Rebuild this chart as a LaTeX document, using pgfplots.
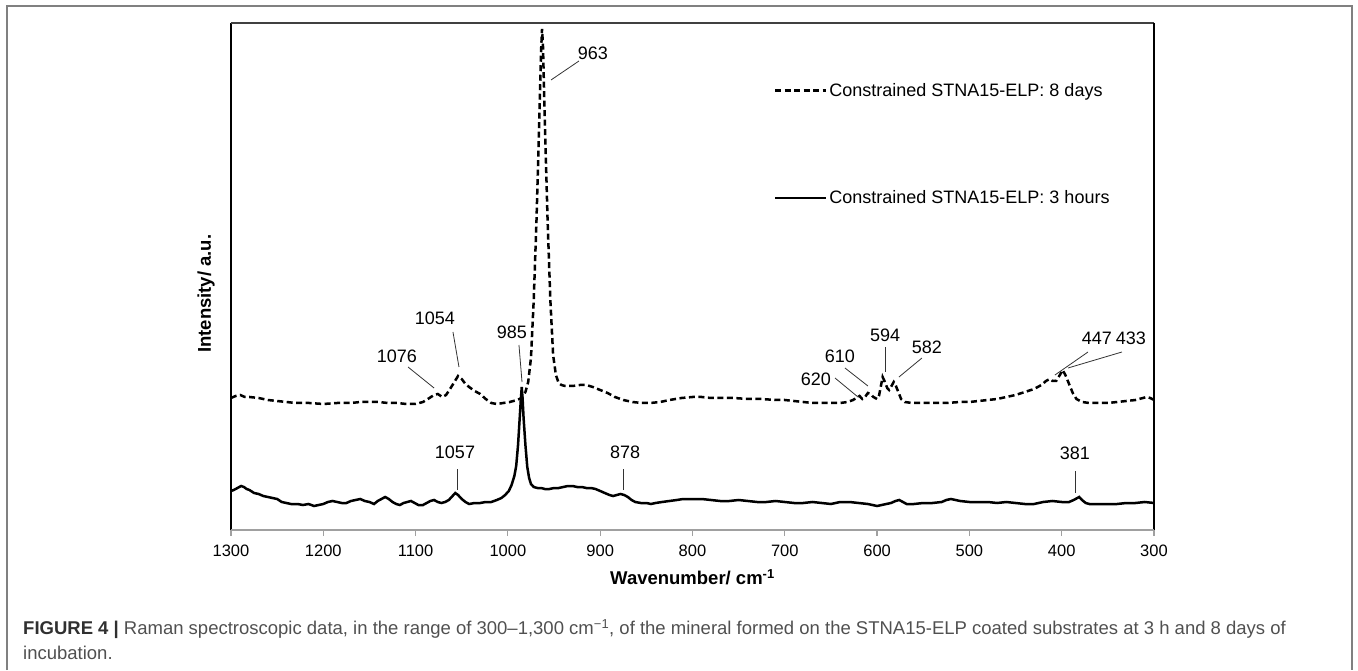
\documentclass[border=0pt]{standalone}
\usepackage{fontspec}
\setmainfont{Liberation Sans}
\usepackage{pgfplots}
\pgfplotsset{compat=1.18}
\definecolor{capgray}{HTML}{505050}
\definecolor{capdark}{HTML}{303030}
\definecolor{framegray}{HTML}{808080}
\definecolor{axisgray}{HTML}{A0A0A0}
\newcommand{\lab}{\fontsize{18}{20}\selectfont}

\pgfplotstableread{
w v
1300 132
1295 134
1290 135
1285 133
1280 133
1270 132
1260 130
1250 129
1240 128
1230 127
1215 127
1200 126
1185 127
1170 127
1160 128
1150 128
1140 128
1130 127
1120 127
1110 126
1100 126
1092 128
1085 132
1080 135
1076 136
1071 133
1067 135
1062 142
1058 148
1054 154
1050 151
1046 146
1042 143
1036 139
1030 136
1024 131
1018 127
1012 126
1005 127
998 128
990 130
985 132
981 138
978 148
975 172
972 230
969 310
966 410
964 480
963 501
962 485
960 410
957 310
954 230
951 175
948 155
945 147
942 145
938 144
930 144
922 145
915 145
908 143
900 140
892 137
884 133
875 130
865 128
855 127
846 127
835 128
825 130
812 132
800 133
790 133
780 132
770 132
755 132
740 131
725 131
710 130
700 130
690 129
680 128
670 127
660 127
650 127
640 127
632 128
626 130
621 133
619 134
616 131
613 133
610 137
607 136
604 133
600 131
598 134
595 148
594 153
592 149
589 142
587 140
585 143
582 148
580 145
577 138
574 131
570 128
562 127
550 127
540 127
525 127
510 128
500 128
490 129
480 130
470 131
460 133
450 135
440 138
430 141
422 145
417 149
413 151
410 149
406 149
402 155
399 160
396 155
392 146
388 137
384 131
378 128
370 127
360 127
350 127
340 128
330 129
320 130
312 132
308 133
304 132
300 130
}\days

\pgfplotstableread{
w v
1300 39
1297 40
1293 42
1289 44
1286 43
1283 41
1280 40
1275 37
1270 36
1265 34
1260 33
1255 32
1250 31
1245 28
1240 27
1235 26
1228 26
1222 25
1216 26
1210 24
1205 25
1200 26
1195 28
1190 29
1185 28
1180 27
1175 27
1170 29
1165 30
1160 31
1155 29
1150 28
1145 26
1141 29
1137 31
1133 33
1129 31
1125 28
1121 26
1117 25
1113 27
1109 28
1105 29
1101 27
1097 25
1092 25
1088 27
1084 29
1080 30
1076 28
1072 27
1068 28
1064 30
1060 34
1057 37
1054 35
1050 31
1046 28
1042 26
1036 27
1030 27
1024 28
1018 28
1012 30
1007 32
1003 35
999 39
996 45
993 54
991 64
989 85
987 115
986 130
985 143
984 130
983 112
981 85
979 63
977 52
975 46
972 43
968 42
964 42
960 41
955 41
950 42
945 42
940 43
935 44
930 44
925 43
920 43
915 42
910 42
905 41
900 39
895 37
890 35
886 34
882 35
878 36
874 35
870 33
866 30
862 28
856 27
850 27
845 26
840 27
833 28
825 29
817 30
810 31
800 31
790 31
780 30
770 29
760 29
750 30
740 29
730 28
720 28
710 29
700 28
690 27
680 27
670 28
660 27
650 26
640 28
630 28
620 27
610 26
600 24
595 25
590 26
585 27
580 29
576 30
572 28
568 26
560 26
550 27
540 27
530 28
525 30
520 31
515 30
510 29
500 28
490 28
480 28
470 27
460 28
450 27
440 26
430 26
420 28
410 29
400 28
392 28
387 30
383 32
381 33
378 30
374 27
370 26
360 26
350 26
340 26
330 27
320 27
310 28
300 27
}\hours

\begin{document}
\begin{tikzpicture}[x=1pt,y=1pt]
\useasboundingbox (0,0) rectangle (1358,670);
\draw[framegray, line width=1.5pt] (7,0) -- (7,664) -- (1352,664) -- (1352,0);
\begin{axis}[
  at={(231pt,140pt)}, anchor=south west,
  scale only axis, width=923pt, height=507pt,
  xmin=300, xmax=1300, ymin=0, ymax=507,
  x dir=reverse,
  xtick={300,400,...,1300}, ytick=\empty,
  xtick pos=bottom,
  axis line style={draw=none},
  tick align=outside, major tick length=6pt,
  xtick style={draw=axisgray, line width=1.2pt},
  xticklabel style={font=\fontsize{16.5}{18}\selectfont, inner sep=0pt, yshift=-9pt},
  /pgf/number format/assume math mode=true,
  /pgf/number format/1000 sep={},
  xlabel={\bfseries Wavenumber/ cm\textsuperscript{-1}},
  xlabel style={font=\fontsize{18.5}{20}\selectfont, at={(axis description cs:0.5,-0.093)}, anchor=center},
  ylabel={\bfseries Intensity/ a.u.},
  ylabel style={font=\fontsize{18.5}{20}\selectfont, at={(axis description cs:-0.027,0.466)}, anchor=center},
  clip=false,
  legend style={draw=none, fill=none, at={(axis description cs:0.588,0.886)}, anchor=north west,
    font=\lab, row sep=89pt, inner sep=0pt},
  legend cell align=left,
  legend image code/.code={\draw[#1] (0pt,0pt) -- (51pt,0pt);},
]
\addplot[black, line width=2.5pt, dash pattern=on 6pt off 3.5pt] table[x=w,y=v] {\days};
\addlegendentry{Constrained STNA15-ELP: 8 days}
\addplot[black, line width=2.5pt] table[x=w,y=v] {\hours};
\addlegendentry{Constrained STNA15-ELP: 3 hours}

\draw[black, line width=1.4pt] (rel axis cs:0,0) -- (rel axis cs:0,1);
\draw[black!75, line width=1.6pt] (rel axis cs:0,1) -- (rel axis cs:1,1);
\draw[black, line width=1.4pt] (rel axis cs:1,1) -- (rel axis cs:1,0);
\draw[axisgray, line width=1.2pt] (rel axis cs:0,0) -- (rel axis cs:1,0);

\begin{scope}[every node/.style={font=\lab, inner sep=0pt}]
\node at (axis cs:907.8,477) {963};
\node at (axis cs:1079,212) {1054};
\node at (axis cs:1120.2,174) {1076};
\node at (axis cs:995.6,198) {985};
\node at (axis cs:1057.3,78) {1057};
\node at (axis cs:873,78) {878};
\node at (axis cs:385.6,77) {381};
\node at (axis cs:666.2,151) {620};
\node at (axis cs:640.2,174) {610};
\node at (axis cs:591.4,195) {594};
\node at (axis cs:546,183) {582};
\node at (axis cs:362,192) {447};
\node at (axis cs:325,192) {433};
\end{scope}
\begin{scope}[black!80, line width=0.8pt]
\draw (axis cs:923,469) -- (axis cs:953.3,450);
\draw (axis cs:1059.5,198) -- (axis cs:1053,163);
\draw (axis cs:1108.2,163) -- (axis cs:1080,142);
\draw (axis cs:988,185) -- (axis cs:984.7,148);
\draw (axis cs:1055,61) -- (axis cs:1055,40);
\draw (axis cs:875.3,61) -- (axis cs:875.3,40);
\draw (axis cs:385.6,59) -- (axis cs:385.6,37);
\draw (axis cs:645.6,152) -- (axis cs:620.7,133);
\draw (axis cs:634.8,162) -- (axis cs:609.9,144);
\draw (axis cs:591.4,183) -- (axis cs:591.4,158);
\draw (axis cs:551.4,172) -- (axis cs:576.3,153);
\draw (axis cs:371.5,178) -- (axis cs:407.3,155);
\draw (axis cs:334.7,178) -- (axis cs:393.2,162);
\end{scope}
\end{axis}
\node[anchor=base west, inner sep=0pt, font=\fontsize{18.5}{20}\selectfont, text=capgray] at (23,35.4)
  {\textbf{\textcolor{capdark}{FIGURE 4 |}} Raman spectroscopic data, in the range of 300–1,300 cm\textsuperscript{−1}, of the mineral formed on the STNA15-ELP coated substrates at 3 h and 8 days of};
\node[anchor=base west, inner sep=0pt, font=\fontsize{18.5}{20}\selectfont, text=capgray] at (23,10.4)
  {incubation.};
\end{tikzpicture}
\end{document}
